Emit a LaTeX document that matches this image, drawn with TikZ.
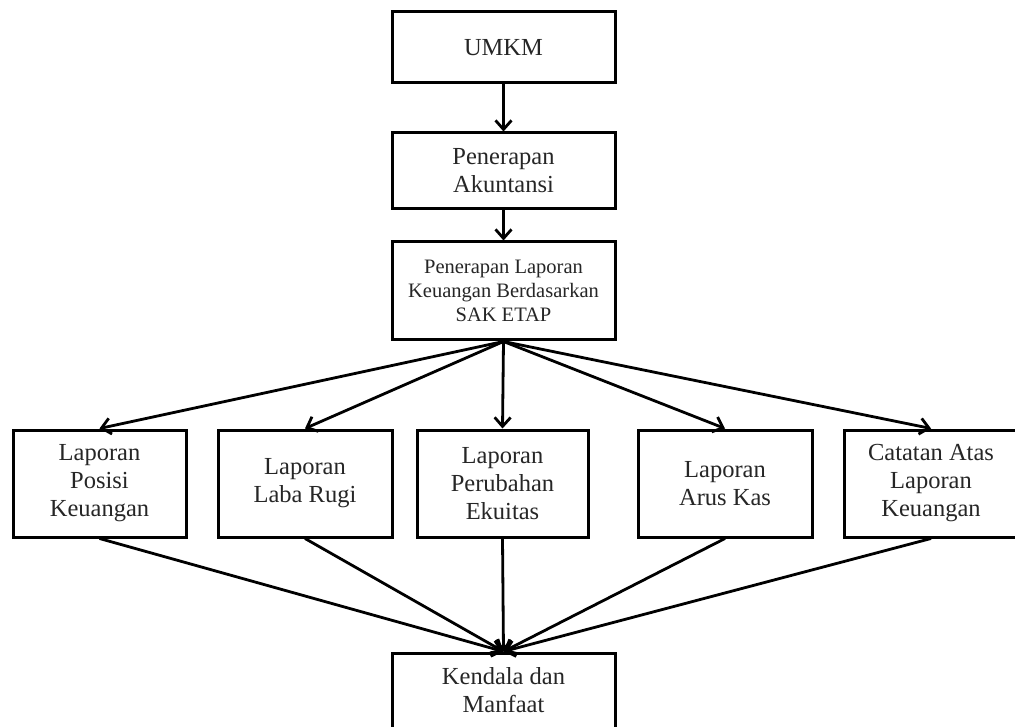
\documentclass[tikz,border=0pt]{standalone}
\usepackage{fontspec}
\setmainfont{Liberation Serif}
\usetikzlibrary{arrows.meta}

\begin{document}
\begin{tikzpicture}[x=1pt, y=-1pt,
    kotak/.style={draw, line width=3pt, align=center, inner sep=2pt,
      font=\fontsize{24.5}{28}\selectfont, text=black!85},
    panah/.style={line width=2.8pt, -{Straight Barb[length=9pt, width=16pt, line width=2.8pt]}}]
  \useasboundingbox (0,0) rectangle (1015,727);

  % ---- top column ----
  \node[kotak, minimum width=223pt, minimum height=71pt] (umkm) at (503.5,47.5) {UMKM};
  \node[kotak, minimum width=223pt, minimum height=76pt] (akun) at (503.5,171) {Penerapan\\Akuntansi};
  \node[kotak, minimum width=223pt, minimum height=98pt,
    font=\fontsize{20.5}{24}\selectfont] (sak) at (503.5,291)
    {Penerapan Laporan\\Keuangan Berdasarkan\\SAK ETAP};

  % ---- row of reports ----
  \node[kotak, minimum width=173pt, minimum height=107pt] (lap1) at (99.5,483.5) {Laporan\\Posisi\\Keuangan};
  \node[kotak, minimum width=174pt, minimum height=107pt] (lap2) at (305,483.5) {Laporan\\Laba Rugi};
  \node[kotak, minimum width=171pt, minimum height=107pt] (lap3) at (502.5,483.5) {Laporan\\Perubahan\\Ekuitas};
  \node[kotak, minimum width=174pt, minimum height=107pt] (lap4) at (725,483.5) {Laporan\\Arus Kas};
  \node[kotak, minimum width=174pt, minimum height=107pt] (lap5) at (931,483.5) {Catatan Atas\\Laporan\\Keuangan};

  % ---- bottom ----
  \node[kotak, minimum width=223pt, minimum height=75pt] (kendala) at (503.5,690.5) {Kendala dan\\Manfaat};

  % ---- arrows ----
  \draw[panah] (umkm) -- (akun);
  \draw[panah] (akun) -- (sak);
  \foreach \i in {1,...,5} {
    \draw[panah] (sak.south) -- (lap\i.north);
    \draw[panah] (lap\i.south) -- (kendala.north);
  }
\end{tikzpicture}
\end{document}
